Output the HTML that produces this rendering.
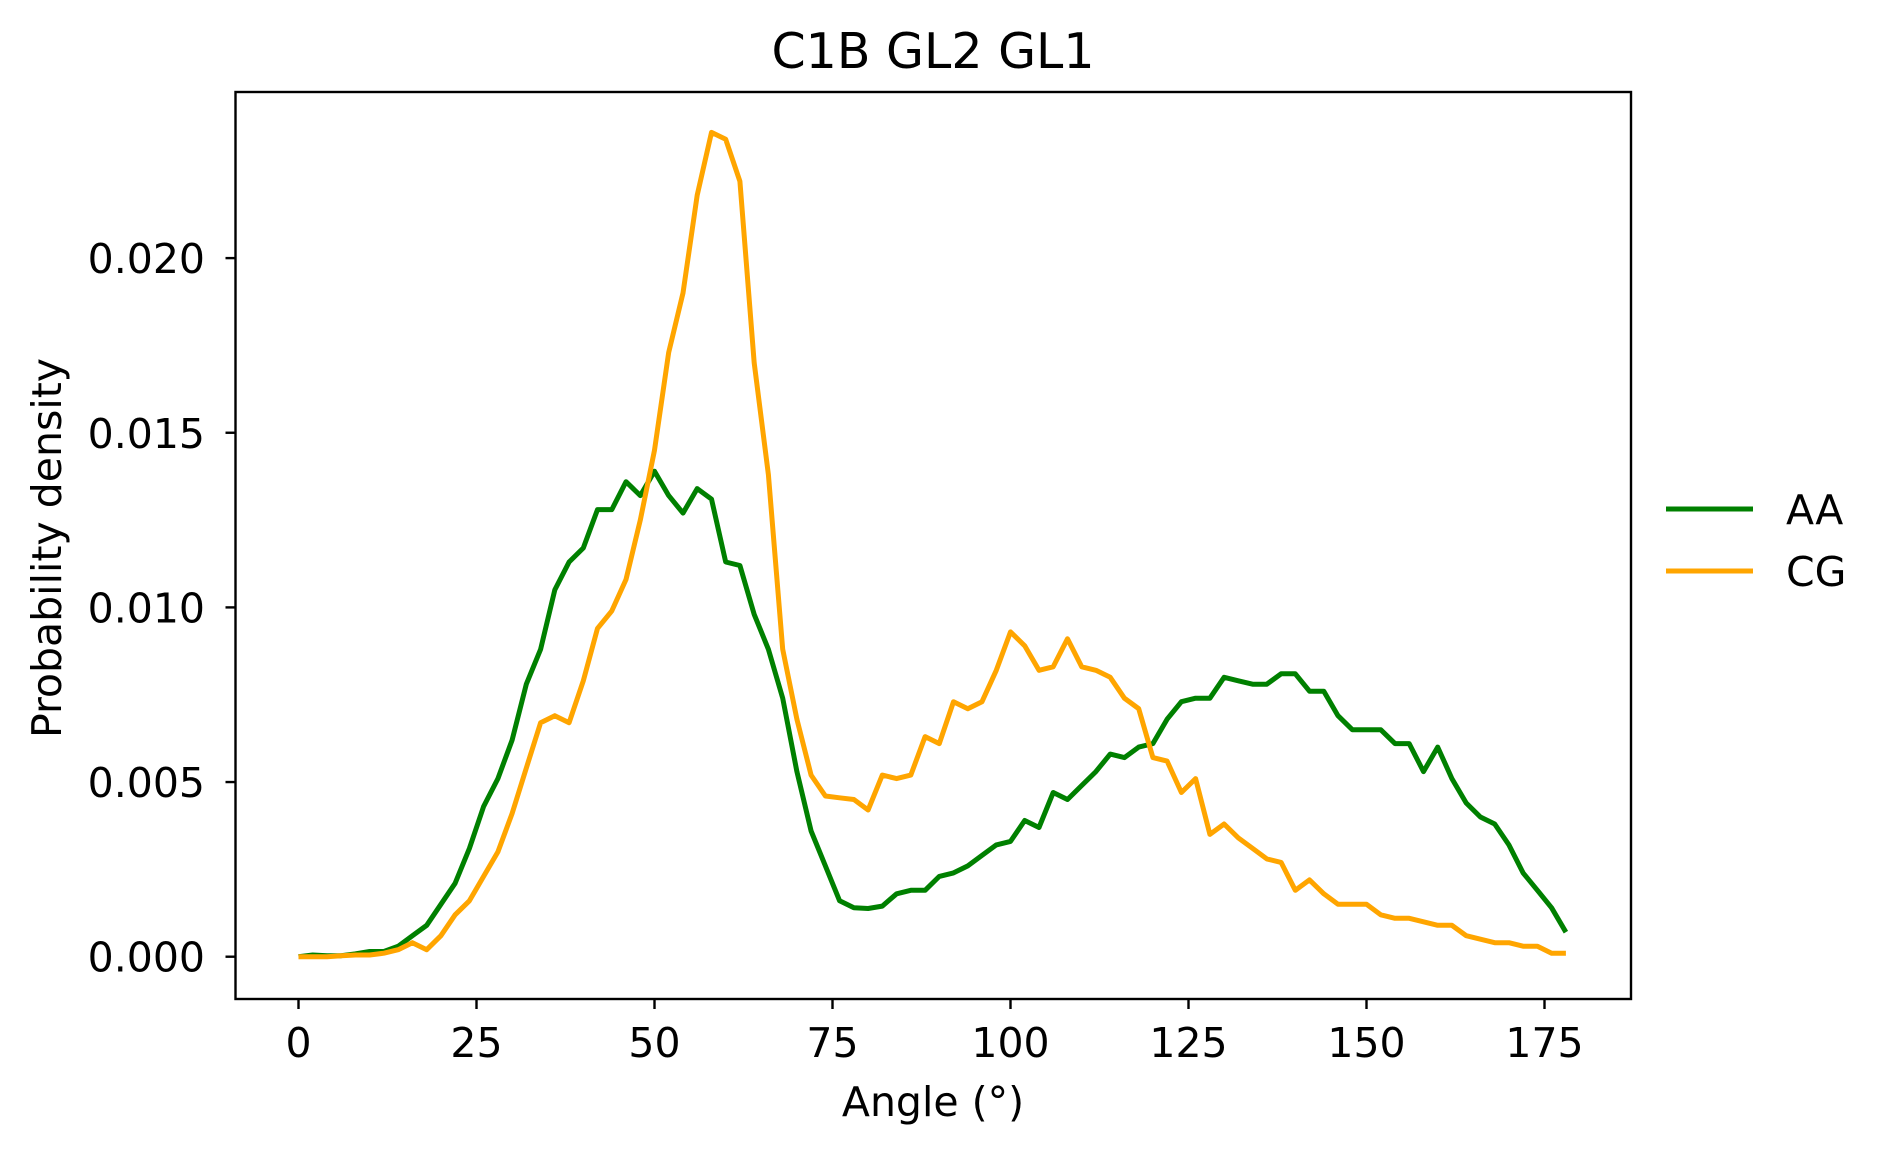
<!DOCTYPE html>
<html><head><meta charset="utf-8"><style>
body{margin:0;background:#fff}
svg{display:block;font-family:"DejaVu Sans","Liberation Sans",sans-serif}
</style></head><body>
<svg id="chart" width="1892" height="1154" viewBox="0 0 1892 1154" xmlns="http://www.w3.org/2000/svg">
<rect width="1892" height="1154" fill="#fff"/>
<text x="933" y="68" font-size="49" text-anchor="middle">C1B GL2 GL1</text>
<g id="xticks"></g>
<g id="yticks"></g>
<g id="series"></g>
<rect x="235.5" y="92" width="1395.5" height="907" fill="none" stroke="#000" stroke-width="2.4"/>
<text x="933" y="1116" font-size="41" text-anchor="middle">Angle (°)</text>
<text x="61" y="548" font-size="41" text-anchor="middle" transform="rotate(-90 61 548)">Probability density</text>
<g>
<line x1="1666" y1="509" x2="1753" y2="509" stroke="#008000" stroke-width="5"/>
<text x="1786" y="524" font-size="41">AA</text>
<line x1="1666" y1="571" x2="1753" y2="571" stroke="#FFA500" stroke-width="5"/>
<text x="1786" y="586" font-size="41">CG</text>
</g>
</svg>
<script>
const angles = [];
for (let a = 0; a <= 178; a += 2) angles.push(a);
const aaValues = [0,0.00005,0.00003,0.00003,0.00008,0.00015,0.00015,0.0003,0.0006,0.0009,0.0015,0.0021,0.0031,0.0043,0.0051,0.0062,0.0078,0.0088,0.0105,0.0113,0.0117,0.0128,0.0128,0.0136,0.0132,0.0139,0.0132,0.0127,0.0134,0.0131,0.0113,0.0112,0.0098,0.0088,0.0074,0.0053,0.0036,0.0026,0.0016,0.0014,0.00138,0.00145,0.0018,0.0019,0.0019,0.0023,0.0024,0.0026,0.0029,0.0032,0.0033,0.0039,0.0037,0.0047,0.0045,0.0049,0.0053,0.0058,0.0057,0.0060,0.0061,0.0068,0.0073,0.0074,0.0074,0.0080,0.0079,0.0078,0.0078,0.0081,0.0081,0.0076,0.0076,0.0069,0.0065,0.0065,0.0065,0.0061,0.0061,0.0053,0.0060,0.0051,0.0044,0.0040,0.0038,0.0032,0.0024,0.0019,0.0014,0.0007];
const cgValues = [0,0,0,0.00003,0.00005,0.00005,0.0001,0.0002,0.0004,0.0002,0.0006,0.0012,0.0016,0.0023,0.0030,0.0041,0.0054,0.0067,0.0069,0.0067,0.0079,0.0094,0.0099,0.0108,0.0125,0.0145,0.0173,0.0190,0.0218,0.0236,0.0234,0.0222,0.0170,0.0138,0.0088,0.0068,0.0052,0.0046,0.00455,0.0045,0.0042,0.0052,0.0051,0.0052,0.0063,0.0061,0.0073,0.0071,0.0073,0.0082,0.0093,0.0089,0.0082,0.0083,0.0091,0.0083,0.0082,0.0080,0.0074,0.0071,0.0057,0.0056,0.0047,0.0051,0.0035,0.0038,0.0034,0.0031,0.0028,0.0027,0.0019,0.0022,0.0018,0.0015,0.0015,0.0015,0.0012,0.0011,0.0011,0.0010,0.0009,0.0009,0.0006,0.0005,0.0004,0.0004,0.0003,0.0003,0.0001,0.0001];
const xTicks = [0,25,50,75,100,125,150,175];
const yTicks = [0,0.005,0.010,0.015,0.020];
const yTickLabels = ["0.000","0.005","0.010","0.015","0.020"];

const NS = "http://www.w3.org/2000/svg";
function xs(a){ return 298.5 + a * 7.12; }
function ys(v){ return 956.7 - v * 34930; }
function mk(tag, attrs, parent){ const e = document.createElementNS(NS, tag); for (const k in attrs) e.setAttribute(k, attrs[k]); parent.appendChild(e); return e; }

const xg = document.getElementById('xticks');
xTicks.forEach(t => {
  const l = mk('line', {x1: xs(t), x2: xs(t), y1: 999, y2: 1009, stroke: '#000', 'stroke-width': 2.4}, xg);
  
  
  const tx = mk('text', {x: xs(t), y: 1057, 'font-size': 41, 'text-anchor': 'middle'}, xg);
  tx.textContent = String(t);
  
  
});
const yg = document.getElementById('yticks');
yTicks.forEach((t, i) => {
  const l = mk('line', {x1: 225.5, x2: 235.5, y1: ys(t), y2: ys(t), stroke: '#000', 'stroke-width': 2.4}, yg);
  
  
  const tx = mk('text', {x: 205, y: ys(t) + 15, 'font-size': 41, 'text-anchor': 'end'}, yg);
  tx.textContent = yTickLabels[i];
  
  
});
const sg = document.getElementById('series');
function drawLine(vals, color, name){
  const pts = vals.map((v, i) => xs(angles[i]).toFixed(1) + ',' + ys(v).toFixed(1)).join(' ');
  const p = mk('polyline', {points: pts, fill: 'none', stroke: color, 'stroke-width': 5, 'stroke-linejoin': 'round'}, sg);
  
  
}
drawLine(aaValues, '#008000', 'aa-line');
drawLine(cgValues, '#FFA500', 'cg-line');
</script>
</body></html>
